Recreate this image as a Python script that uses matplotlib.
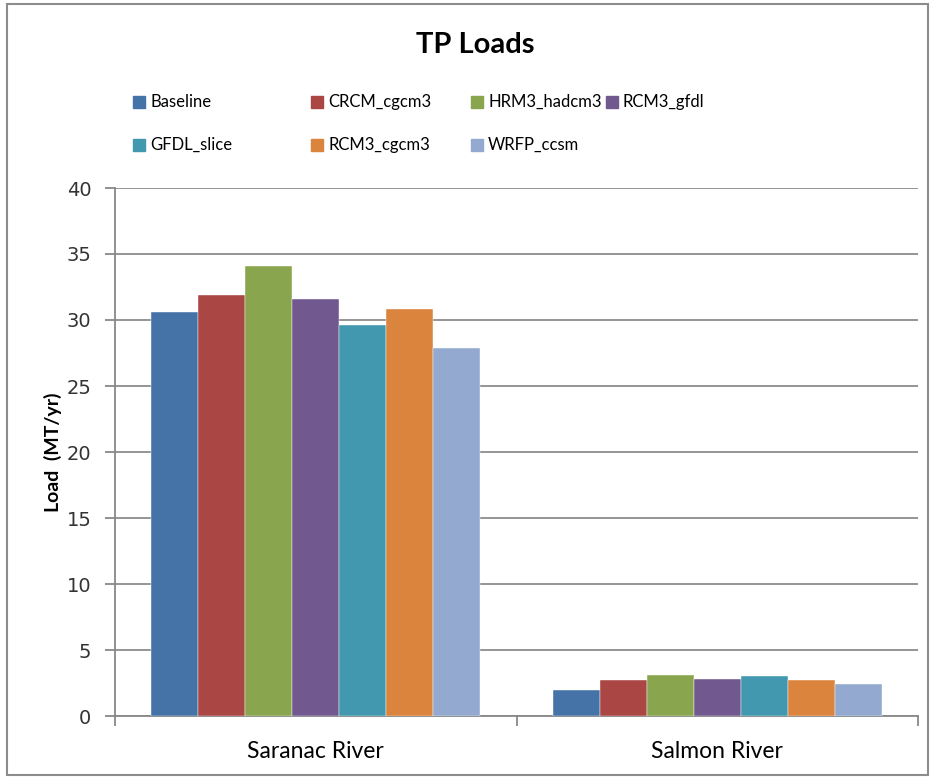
import numpy as np
import matplotlib.pyplot as plt
from matplotlib.patches import Rectangle

rivers = ["Saranac River", "Salmon River"]
scenarios = ["Baseline", "CRCM_cgcm3", "HRM3_hadcm3", "RCM3_gfdl",
             "GFDL_slice", "RCM3_cgcm3", "WRFP_ccsm"]
saranac = [30.6, 31.9, 34.1, 31.6, 29.6, 30.8, 27.9]
salmon = [2.0, 2.7, 3.1, 2.8, 3.0, 2.7, 2.4]
colors = ["#4572A7", "#AA4643", "#89A54E", "#71588F",
          "#4198AF", "#DB843D", "#93A9CF"]

plt.rcParams['font.family'] = ['Lato', 'DejaVu Sans']

fig = plt.figure(figsize=(9.35, 7.78), dpi=100)
ax = fig.add_axes([115 / 935, 1 - 716 / 778, 803 / 935, 528 / 778])

loads = np.array([saranac, salmon])
x = np.arange(len(rivers))
width = 0.117
for i, name in enumerate(scenarios):
    offset = (i - (len(scenarios) - 1) / 2) * width
    ax.bar(x + offset, loads[:, i], width, color=colors[i], label=name,
           edgecolor="white", linewidth=0.3, zorder=3)

ax.set_xlim(-0.5, 1.5)
ax.set_ylim(0, 40)
ax.set_yticks(np.arange(0, 41, 5))
ax.set_xticks(x)
ax.set_xticklabels(rivers, fontsize=16.5)
ax.set_xticks([-0.5, 0.5, 1.5], minor=True)
ax.tick_params(axis="x", which="major", length=0, pad=18)
ax.tick_params(axis="x", which="minor", length=7, color="#888888", width=1.3)
ax.tick_params(axis="y", length=7, color="#888888", width=1.3, pad=10,
               labelsize=14)
for lab in ax.get_yticklabels():
    lab.set_family("DejaVu Sans")
    lab.set_color("#333333")

ax.grid(axis="y", color="#8c8c8c", linewidth=1.3, zorder=0)
for side in ["top", "right"]:
    ax.spines[side].set_visible(False)
for side in ["left", "bottom"]:
    ax.spines[side].set_color("#888888")
    ax.spines[side].set_linewidth(1.3)

ax.set_ylabel("Load  (MT/yr)", fontsize=14, fontweight="bold", labelpad=3)

fig.text(475 / 935, 1 - 45 / 778, "TP Loads", ha="center", va="center",
         fontsize=21, fontweight="bold")

# legend laid out in two rows like the spreadsheet chart
col_x = [133, 311, 471, 606]
row_y = [102, 145]
for i, name in enumerate(scenarios):
    r, c = divmod(i, 4)
    px, py = col_x[c], row_y[r]
    fig.patches.append(Rectangle((px / 935, 1 - (py + 6) / 778), 12 / 935, 12 / 778,
                                 transform=fig.transFigure, color=colors[i]))
    fig.text((px + 17) / 935, 1 - py / 778, name, ha="left", va="center",
             fontsize=12)

# outer chart border
fig.patches.append(Rectangle((7 / 935, 3 / 778), 921 / 935, 771 / 778,
                             transform=fig.transFigure, fill=False,
                             edgecolor="#8c8c8c", linewidth=1.5))

fig.savefig("out.png", dpi=100)
